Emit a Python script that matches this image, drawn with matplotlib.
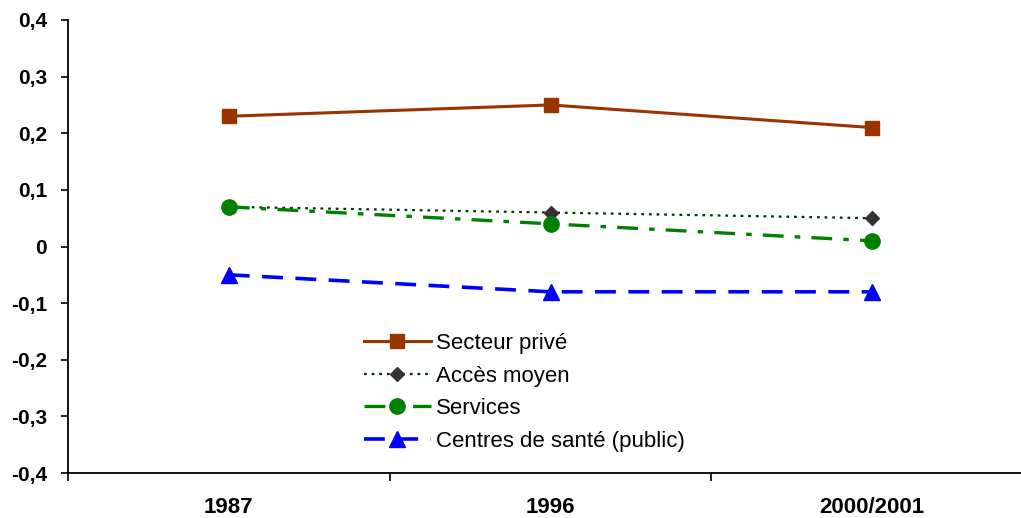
import numpy as np
import matplotlib.pyplot as plt

plt.rcParams['font.family'] = ['Liberation Sans', 'DejaVu Sans']
plt.rcParams['lines.scale_dashes'] = False

years = ['1987', '1996', '2000/2001']
secteur_prive = [0.23, 0.25, 0.21]
acces_moyen = [0.07, 0.06, 0.05]
services = [0.07, 0.04, 0.01]
centres_sante = [-0.05, -0.08, -0.08]
yticks = [-0.4, -0.3, -0.2, -0.1, 0, 0.1, 0.2, 0.3, 0.4]
ytick_labels = ['-0,4', '-0,3', '-0,2', '-0,1', '0', '0,1', '0,2', '0,3', '0,4']

fig = plt.figure(figsize=(10.21, 5.18), dpi=100)
# axes runs a little past the right edge, like the original layout
ax = fig.add_axes([68 / 1021, 1 - 473 / 518, 965 / 1021, 453 / 518])

x = np.arange(len(years))
ax.plot(x, secteur_prive, color='#993300', lw=2.2, marker='s', ms=10,
        label='Secteur privé', zorder=3)
ax.plot(x, acces_moyen, color='#003300', lw=1.6, dashes=(2, 3.5), marker='D',
        ms=7, mfc='#333333', mec='#333333', label='Accès moyen', zorder=4)
ax.plot(x, services, color='#008000', lw=2.4, dashes=(15, 8, 4, 8), marker='o',
        ms=11, label='Services', zorder=5)
ax.plot(x, centres_sante, color='#0000ff', lw=2.6, dashes=(15, 9), marker='^',
        ms=12, label='Centres de santé (public)', zorder=3)

ax.set_xlim(-0.5, 2.5)
ax.set_ylim(-0.4, 0.4)
ax.set_yticks(yticks)
ax.set_yticklabels(ytick_labels, fontweight='bold', fontsize=15)
ax.set_xticks(x)
ax.set_xticklabels(years, fontweight='bold', fontsize=16)
ax.set_xticks(np.arange(-0.5, 3, 1), minor=True)
ax.tick_params(axis='x', which='major', length=0, pad=17)
ax.tick_params(axis='x', which='minor', length=6, width=1.2)
ax.tick_params(axis='y', length=5, width=1.2, pad=10)
for side in ['top', 'right']:
    ax.spines[side].set_visible(False)
for side in ['left', 'bottom']:
    ax.spines[side].set_linewidth(1.3)

ax.legend(loc='upper left', bbox_to_anchor=(364 / 1021, 1 - 333 / 518),
          bbox_transform=fig.transFigure, frameon=False, fontsize=16,
          handlelength=3.0, labelspacing=0.52, handletextpad=0.25,
          borderpad=0, borderaxespad=0)

fig.savefig('out.png', dpi=100)
